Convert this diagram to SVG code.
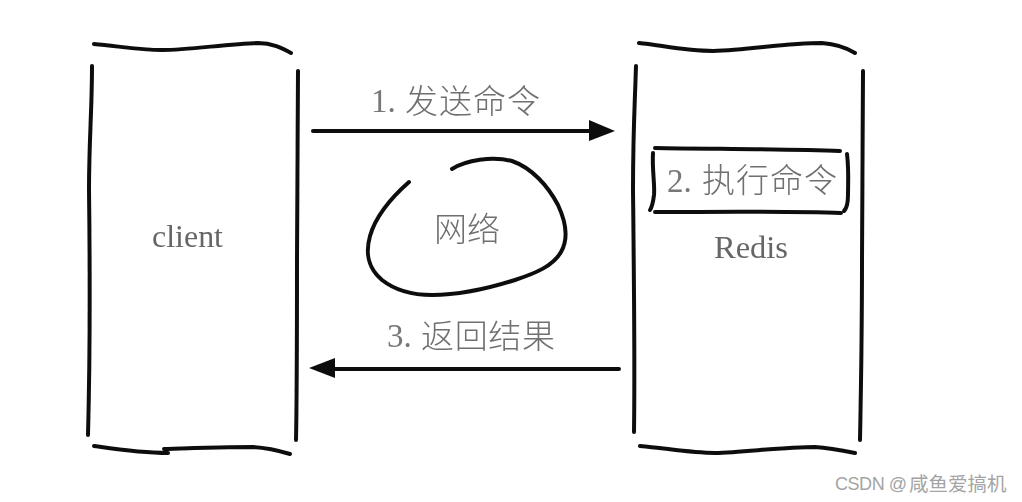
<svg xmlns="http://www.w3.org/2000/svg" width="1022" height="502" viewBox="0 0 1022 502">
<style>
.ink{fill:none;stroke:#111;stroke-width:4;stroke-linecap:round;stroke-linejoin:round}
.thin{stroke-width:4}
.head{fill:#111;stroke:none}
.lat{font-family:"Liberation Serif",serif;font-size:32px;fill:#666}
.num{font-family:"Liberation Serif",serif;font-size:33px;fill:#777}
.cjk{font-family:"Noto Sans CJK SC",sans-serif;font-size:33px;font-weight:300;fill:#707070}
.mark{font-family:"Liberation Sans",sans-serif;font-size:18px;fill:#a4a4a4}
.markc{font-family:"Noto Sans CJK SC",sans-serif;font-size:19.5px;fill:#a4a4a4}
</style>
<defs>
<filter id="soft" x="-5%" y="-5%" width="110%" height="110%"><feGaussianBlur stdDeviation="0.6"/></filter>
<filter id="softText" x="-5%" y="-5%" width="110%" height="110%"><feGaussianBlur stdDeviation="0.45"/></filter>
</defs>
<rect width="1022" height="502" fill="#fff"/>
<g id="client" filter="url(#soft)">
<path class="ink" d="M94,44 C118,46 138,50 162,50 C190,50 225,44 258,43 C272,43 282,48 291,53"/>
<path class="ink" d="M92,66 C92,110 89,140 89,190 C90,270 90,360 88,435"/>
<path class="ink" d="M298,71 C298,140 297,200 297,260 C297,330 297,390 296,440"/>
<path class="ink" d="M94,446 C115,449 140,453 168,453"/>
<path class="ink" d="M164,449 C195,448 225,447 253,447 C268,448 280,451 290,454"/>
<text class="lat" x="152" y="247" textLength="71" lengthAdjust="spacingAndGlyphs" filter="url(#softText)">client</text>
</g>
<g id="redis" filter="url(#soft)">
<path class="ink" d="M639,43 C660,45 685,51 713,51 C750,50 785,43 822,43 C835,44 847,48 855,53"/>
<path class="ink" d="M636,66 C635,100 633,130 633,190 C634,280 635,360 634,432"/>
<path class="ink" d="M863,71 C863,140 862,200 862,260 C862,330 861,390 860,440"/>
<path class="ink" d="M640,446 C665,448 690,453 715,453 C745,452 785,447 815,447 C830,448 845,451 855,453"/>
<text class="lat" x="714" y="258" textLength="74" lengthAdjust="spacingAndGlyphs" filter="url(#softText)">Redis</text>
</g>
<g id="execute" filter="url(#soft)">
<path class="ink thin" d="M655,148 C710,149 790,149 840,151"/>
<path class="ink thin" d="M655,212 C710,212 790,211 841,213"/>
<path class="ink thin" d="M653,153 C652,170 655,185 654,195 C653,203 652,207 650,210"/>
<path class="ink thin" d="M847,154 C849,170 848,185 848,195 C848,203 847,208 844,211"/>
<text filter="url(#softText)"><tspan class="num" x="667" y="192">2.</tspan><tspan class="cjk" x="702" y="192" textLength="135" lengthAdjust="spacing">执行命令</tspan></text>
</g>
<g id="network" filter="url(#soft)">
<path class="ink" d="M409,182 C392,197 376,215 370,236 C365,254 368,268 382,280 C396,291 412,295 432,295 C462,295 490,288 515,280 C536,273 553,266 561,252 C569,238 566,222 558,205 C548,186 532,168 512,161 C492,156 466,160 452,169"/>
<text class="cjk" x="434" y="241" textLength="66" lengthAdjust="spacing" filter="url(#softText)">网络</text>
</g>
<g id="connectors" filter="url(#soft)">
<path class="ink" d="M313,131 H592"/>
<polygon class="head" points="615,131 589,120 589,141"/>
<path class="ink" d="M619,369 H332"/>
<polygon class="head" points="309,368 335,358 335,378"/>
</g>
<g id="labels" filter="url(#softText)">
<text><tspan class="num" x="371" y="112">1.</tspan><tspan class="cjk" x="405" y="113" textLength="135" lengthAdjust="spacing">发送命令</tspan></text>
<text><tspan class="num" x="387" y="347">3.</tspan><tspan class="cjk" x="421" y="348" textLength="134" lengthAdjust="spacing">返回结果</tspan></text>
</g>
<g id="watermark"><text><tspan class="mark" x="835" y="490" textLength="72" lengthAdjust="spacing">CSDN @</tspan><tspan class="markc" x="909" y="491">咸鱼爱搞机</tspan></text></g>
</svg>
